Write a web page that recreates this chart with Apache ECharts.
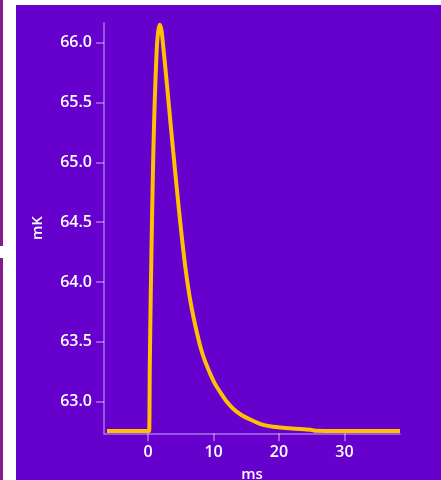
<!DOCTYPE html>
<html><head><meta charset="utf-8">
<script src="https://cdn.jsdelivr.net/npm/echarts@6/dist/echarts.min.js"></script>
<style>
html,body{margin:0;padding:0;background:#fff;width:441px;height:480px;overflow:hidden;position:relative}
#bar1{position:absolute;left:0;top:0;width:3px;height:246px;background:#861c8c}
#bar2{position:absolute;left:0;top:258px;width:3px;height:222px;background:#861c8c}
#chart{position:absolute;left:16px;top:5px;width:425px;height:475px;background:#6600cc}
</style></head>
<body>
<div id="bar1"></div><div id="bar2"></div>
<div id="chart"></div>
<script>
const timeMs = [-6.3, -3, 0, 0.15, 0.25, 0.4, 0.6, 0.8, 1.0, 1.3, 1.55, 1.8, 2.05, 2.3, 2.7, 3.06, 3.45, 3.83, 4.4, 4.96, 5.67, 6.49, 7.56, 8.3, 9.19, 10.2, 11.24, 12.0, 13.0, 14.2, 15.6, 17.3, 19.1, 22.0, 24.8, 25.5, 30, 38.5];
const tempMK = [62.755, 62.755, 62.755, 62.755, 63.3, 63.9, 64.55, 65.1, 65.5, 65.93, 66.1, 66.15, 66.1, 65.97, 65.75, 65.54, 65.31, 65.09, 64.77, 64.47, 64.13, 63.83, 63.55, 63.40, 63.27, 63.15, 63.06, 63.00, 62.94, 62.89, 62.85, 62.81, 62.79, 62.775, 62.765, 62.757, 62.755, 62.755];
const yTicks = [63.0, 63.5, 64.0, 64.5, 65.0, 65.5, 66.0];
const xTicks = [0, 10, 20, 30];

const axisCol = 'rgba(255,255,255,0.45)';
const font = 'Open Sans';
const fw = 600;
const chart = echarts.init(document.getElementById('chart'));
chart.setOption({
  backgroundColor: '#6600cc',
  animation: false,
  grid: {left: 88, right: 41, top: 17.7, bottom: 46.7, outerBoundsMode: 'none', containLabel: false},
  xAxis: {
    type: 'value', min: -6.75, max: 38.5,
    name: 'ms', nameLocation: 'middle', nameGap: 34,
    nameTextStyle: {color: '#fff', fontSize: 15, fontFamily: font, fontWeight: fw},
    axisLine: {onZero: false, lineStyle: {color: axisCol, width: 1.5}},
    axisTick: {show: true, length: 8, lineStyle: {color: axisCol, width: 1.5}, customValues: xTicks},
    axisLabel: {color: '#fff', fontSize: 16, fontFamily: font, fontWeight: fw, margin: 11, customValues: xTicks, formatter: v => String(v)},
    splitLine: {show: false}
  },
  yAxis: {
    type: 'value', min: 62.735, max: 66.167,
    name: 'mK', nameLocation: 'middle', nameGap: 59, nameRotate: 90,
    nameTextStyle: {color: '#fff', fontSize: 15, fontFamily: font, fontWeight: fw},
    axisLine: {show: true, onZero: false, lineStyle: {color: axisCol, width: 1.5}},
    axisTick: {show: true, length: 8, lineStyle: {color: axisCol, width: 1.5}, customValues: yTicks},
    axisLabel: {color: '#fff', fontSize: 16, fontFamily: font, fontWeight: fw, margin: 12, customValues: yTicks, formatter: v => v.toFixed(1)},
    splitLine: {show: false}
  },
  series: [{
    type: 'line',
    data: timeMs.map((t, i) => [t, tempMK[i]]),
    showSymbol: false,
    smooth: 0.25,
    lineStyle: {color: '#ffc000', width: 4}
  }]
});
</script>
</body></html>
